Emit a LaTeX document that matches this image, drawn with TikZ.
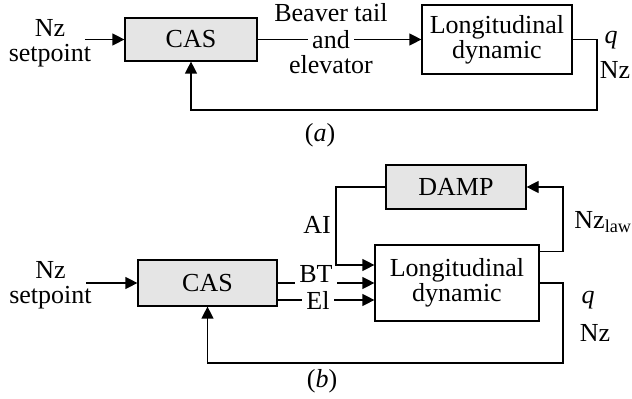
\documentclass[tikz,border=0pt]{standalone}
\usepackage{fontspec}
\setmainfont{Liberation Serif}
\usepackage{xcolor}
\usepackage{tikz}
\usetikzlibrary{arrows.meta, positioning, calc}
\definecolor{boxgray}{rgb}{0.9,0.9,0.9}

\begin{document}
\begin{tikzpicture}[x=1pt, y=1pt, line width=1.2pt,
		font=\fontsize{26}{25}\selectfont,
		graybox/.style={draw, fill=boxgray, inner sep=0pt},
		whitebox/.style={draw, fill=white, inner sep=0pt, align=center},
		lbl/.style={inner xsep=4pt, inner ysep=0pt},
		txt/.style={inner sep=0pt, align=center},
		arr/.style={-{Triangle[length=12pt, width=12pt]}}]
		\useasboundingbox (0,0) rectangle (632,399);

		\node[txt] (spA) at (50,356) {Nz\\setpoint};
		\node[graybox, minimum width=132pt, minimum height=43pt] (casA) at (191,359.5) {CAS};
		\node[whitebox, minimum width=150pt, minimum height=69pt] (longA) at (497,359.5) {Longitudinal\\dynamic};
		\node[lbl] (andA) at (331,359.5) {and};
		\node[txt] (beaver) at (331,386) {Beaver tail};
		\node[txt] (elev) at (331,334) {elevator};
		\coordinate (fbA) at (597,289);
		\node[txt] (qA) at (611,359) {\textit{q}};
		\node[txt] (nzA) at (615,329) {Nz};
		\node[txt] (capA) at (320,264) {(\textit{a})};

		\draw [arr] ([xshift=-7pt]spA.east |- casA.west) -- (casA.west);
		\draw (casA.east) -- (andA.west);
		\draw [arr] (andA.east) -- (longA.west);
		\draw [arr] (longA.east) -| (fbA) -| (casA.south);

		\node[txt] (spB) at (50.5,114) {Nz\\setpoint};
		\node[graybox, minimum width=139pt, minimum height=46pt] (casB) at (207.5,116) {CAS};
		\node[whitebox, minimum width=164pt, minimum height=76pt] (longB) at (457,116) {Longitudinal\\dynamic};
		\node[graybox, minimum width=140pt, minimum height=44pt] (damp) at (456,212) {DAMP};
		\node[lbl] (bt) at (316,125) {BT};
		\node[lbl] (el) at (318,99) {El};
		\coordinate (aiC) at (336,134);
		\coordinate (lawC) at (563,212);
		\coordinate (fbB) at (563,36);
		\node[txt] (ai) at (317,174) {AI};
		\node[txt] (law) at (603,177) {Nz\textsubscript{law}};
		\node[txt] (qB) at (588,99) {\textit{q}};
		\node[txt] (nzB) at (595,66) {Nz};
		\node[txt] (capB) at (322,18) {(\textit{b})};

		\draw [arr] ([xshift=-6pt]spB.east |- casB.west) -- (casB.west);
		\draw (casB.east) -- (casB.east -| bt.west);
		\draw [arr] (longB.west -| bt.east) -- (longB.west);
		\draw ([yshift=-17pt]casB.east) -- ([yshift=-17pt]casB.east -| el.west);
		\draw [arr] ([yshift=-17pt]longB.west -| el.east) -- ([yshift=-17pt]longB.west);
		\draw [arr] (damp.west) -| (aiC) -- ([yshift=18pt]longB.west);
		\draw [arr] ([yshift=-7pt]longB.north east) -| (lawC) -- (damp.east);
		\draw [arr] (longB.east) -| (fbB) -| (casB.south);
	\end{tikzpicture}
\end{document}
